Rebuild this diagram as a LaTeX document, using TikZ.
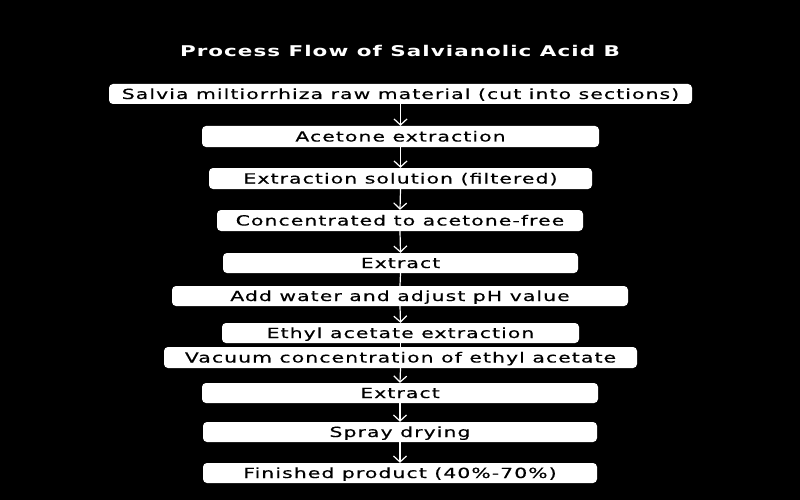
\documentclass[tikz,border=0pt]{standalone}
\usepackage{fontspec}
\setmainfont{DejaVu Sans}
\newfontfamily\bodyfont[FakeStretch=1.45,LetterSpace=8,FakeBold=0.4]{DejaVu Sans}
\newfontfamily\titlefont[FakeStretch=1.45,LetterSpace=7]{DejaVu Sans}
\usetikzlibrary{arrows.meta}
\begin{document}
\begin{tikzpicture}[x=1pt,y=-1pt,
  stepbox/.style={fill=white,rounded corners=4pt,inner sep=0pt,
    text=black,font=\bodyfont\fontsize{14}{15}\selectfont,
    text height=12pt,text depth=2pt},
  flow/.style={draw=white,line width=1.2pt,-{Straight Barb[length=6pt,width=13pt]}},
  link/.style={draw=white,line width=1.2pt}]
\fill[black] (0,0) rectangle (800,500);
\node[text=white,font=\titlefont\bfseries\fontsize{14.8}{16}\selectfont] (title) at (400,51) {Process Flow of Salvianolic Acid B};
\newcommand\mkbox[6]{\node[stepbox,minimum width={#3-#2},minimum height={#5-#4}] (#1) at ({(#2+#3)/2},{(#4+#5)/2}) {#6};}
\mkbox{b1}{109}{692}{84}{104}{Salvia miltiorrhiza raw material (cut into sections)}
\mkbox{b2}{202}{599}{126}{147}{Acetone extraction}
\mkbox{b3}{209}{592}{168}{189}{Extraction solution (filtered)}
\mkbox{b4}{217}{583}{210}{231}{Concentrated to acetone-free}
\mkbox{b5}{223}{578}{253}{273}{Extract}
\mkbox{b6}{172}{628}{286}{306}{Add water and adjust pH value}
\mkbox{b7}{222}{579}{323}{343}{Ethyl acetate extraction}
\mkbox{b8}{164}{637}{347}{368}{Vacuum concentration of ethyl acetate}
\mkbox{b9}{202}{598}{383}{403}{Extract}
\mkbox{b10}{203}{597}{422}{442}{Spray drying}
\mkbox{b11}{203}{597}{463}{483}{Finished product (40\%-70\%)}
\draw[flow] (b1.south) -- (b2.north);
\draw[flow] (b2.south) -- (b3.north);
\draw[flow] (b3.south) -- (b4.north);
\draw[flow] (b4.south) -- (b5.north);
\draw[link] (b5.south) -- (b6.north);
\draw[flow] (b6.south) -- (b7.north);
\draw[link] (b7.south) -- (b8.north);
\draw[flow] (b8.south) -- (b9.north);
\draw[flow] (b9.south) -- (b10.north);
\draw[flow] (b10.south) -- (b11.north);
\end{tikzpicture}
\end{document}
